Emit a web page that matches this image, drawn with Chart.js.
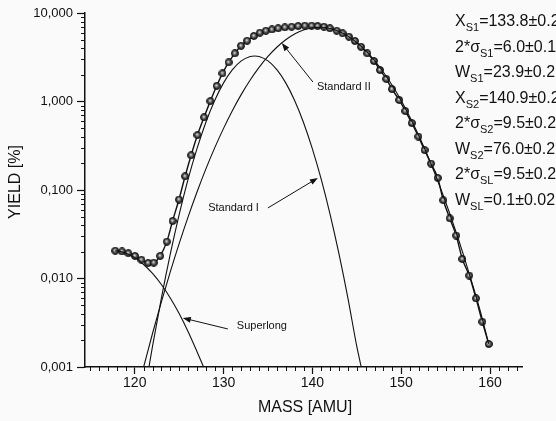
<!DOCTYPE html>
<html>
<head>
<meta charset="utf-8">
<script src="https://cdn.jsdelivr.net/npm/chart.js@4.4.1/dist/chart.umd.min.js"></script>
<style>
  body { margin: 0; background: #fafafa; }
  canvas { display: block; }
</style>
</head>
<body>
<canvas id="yieldChart" width="556" height="421"></canvas>
<script>
// measured yields (sum curve with the balls)
const massPoints = [117.80, 118.57, 119.28, 120.02, 120.75, 121.50, 122.14, 122.86, 123.61, 124.26,
    124.98, 125.67, 126.35, 127.06, 127.80, 128.51, 129.22, 129.88, 130.57, 131.27,
    131.97, 132.65, 133.41, 134.08, 134.76, 135.44, 136.15, 136.90, 137.66, 138.40,
    139.15, 139.91, 140.59, 141.30, 141.97, 142.73, 143.40, 144.11, 144.79, 145.47,
    146.18, 146.93, 147.61, 148.32, 148.96, 149.78, 150.46, 151.19, 151.93, 152.63,
    153.35, 154.11, 154.74, 155.46, 156.19, 156.88, 157.66, 158.42, 159.13, 159.85];
const yieldPoints = [0.0206, 0.0202, 0.0193, 0.0180, 0.0163, 0.0150, 0.0151, 0.0180, 0.0261, 0.0447,
    0.0781, 0.143, 0.247, 0.418, 0.663, 1.01, 1.50, 2.08, 2.77, 3.50,
    4.26, 4.86, 5.50, 5.99, 6.31, 6.51, 6.72, 6.89, 7.00, 7.13,
    7.19, 7.19, 7.13, 7.00, 6.72, 6.31, 5.90, 5.40, 4.83, 4.16,
    3.50, 2.87, 2.27, 1.80, 1.38, 1.04, 0.781, 0.571, 0.402, 0.283,
    0.199, 0.137, 0.0767, 0.0479, 0.0306, 0.0166, 0.0108, 0.00597, 0.00325, 0.00182];

// Standard I component
const standard1Mass = [121.6, 122, 123, 124, 125, 126, 127, 128, 129, 130, 131, 132, 133, 133.5,
    134, 135, 136, 137, 138, 139, 140, 141, 142, 143, 144, 145, 145.5];
const standard1Yield = [0.001, 0.00171, 0.0060, 0.0188, 0.0527, 0.1315, 0.292, 0.580, 1.028, 1.624, 2.288, 2.875, 3.224, 3.27,
    3.224, 2.875, 2.288, 1.624, 1.028, 0.580, 0.292, 0.1315, 0.0527, 0.0188, 0.0060, 0.00171, 0.001];

// Standard II component
const standard2Mass = [121, 122, 123, 124, 125, 126, 127, 128, 129, 130, 131, 132, 133, 134, 135, 136, 137, 138, 139, 140,
    141, 142, 143, 144, 145, 146, 147, 148, 149, 150, 151, 152, 153, 154, 155, 156, 157, 158, 159, 159.85];
const standard2Yield = [0.001, 0.00239, 0.00545, 0.0119, 0.0248, 0.0494, 0.0942, 0.172, 0.299, 0.497, 0.791, 1.204, 1.75, 2.43, 3.23, 4.10, 4.98, 5.78, 6.41, 6.80,
    6.89, 6.68, 6.19, 5.48, 4.64, 3.75, 2.90, 2.14, 1.515, 1.023, 0.660, 0.408, 0.241, 0.136, 0.0731, 0.0377, 0.0186, 0.00874, 0.00394, 0.00182];

// Superlong component
const superlongMass = [117.8, 118, 119, 120, 121, 122, 123, 124, 125, 126, 127, 127.75];
const superlongYield = [0.0206, 0.0205, 0.0193, 0.0172, 0.0144, 0.0114, 0.00855, 0.00603, 0.00402, 0.00252, 0.00150, 0.001];

const xTicks = [120, 130, 140, 150, 160];
const yTicks = [0.001, 0.01, 0.1, 1, 10];
const yTickLabels = ['0,001', '0,010', '0,100', '1,000', '10,000'];

const paramText = ['X_{S1}=133.8±0.2', '2*σ_{S1}=6.0±0.1', 'W_{S1}=23.9±0.2', 'X_{S2}=140.9±0.2',
    '2*σ_{S2}=9.5±0.2', 'W_{S2}=76.0±0.2', '2*σ_{SL}=9.5±0.2', 'W_{SL}=0.1±0.02'];

// arrows: tip and tail in data coordinates
const arrowLabels = ['Standard II', 'Standard I', 'Superlong'];
const arrowTips = [[136.56, 4.58], [140.62, 0.137], [125.41, 0.00358]];
const arrowTails = [[140.06, 1.66], [134.99, 0.0627], [130.48, 0.00269]];

const FONT = "'Liberation Sans', Arial, Helvetica, sans-serif";

const toXY = (xs, ys) => xs.map((x, i) => ({ x: x, y: ys[i] }));

// little shaded ball used as point style
function makeBall(size) {
    const c = document.createElement('canvas');
    c.width = c.height = size;
    const g = c.getContext('2d');
    const r = size / 2 - 0.5;
    const grad = g.createRadialGradient(size * 0.45, size * 0.42, 0.3, size / 2, size / 2, r);
    grad.addColorStop(0, '#dcdcdc');
    grad.addColorStop(0.4, '#6e6e6e');
    grad.addColorStop(1, '#121212');
    g.fillStyle = grad;
    g.beginPath();
    g.arc(size / 2, size / 2, r, 0, Math.PI * 2);
    g.fill();
    g.lineWidth = 0.9;
    g.strokeStyle = '#0c0c0c';
    g.stroke();
    return c;
}

function drawRich(ctx, str, x, y) {
    const parts = str.split(/_\{|\}/);
    parts.forEach((p, i) => {
        if (!p) return;
        if (i % 2 === 1) {
            ctx.font = '11px ' + FONT;
            ctx.fillText(p, x, y + 5);
        } else {
            ctx.font = '16px ' + FONT;
            ctx.fillText(p, x, y);
        }
        x += ctx.measureText(p).width;
    });
}

const decorations = {
    id: 'decorations',
    afterDraw(chart) {
        const { ctx } = chart;
        const x = chart.scales.x, y = chart.scales.y;
        ctx.save();
        ctx.strokeStyle = '#111';
        ctx.fillStyle = '#111';
        ctx.lineWidth = 1;

        // minor ticks
        ctx.beginPath();
        for (let e = -3; e < 1; e++) {
            for (let k = 2; k <= 9; k++) {
                const py = Math.round(y.getPixelForValue(k * Math.pow(10, e))) + 0.5;
                ctx.moveTo(x.left - 4, py);
                ctx.lineTo(x.left, py);
            }
        }
        for (let m = 115; m <= 163; m++) {
            if (m % 10 === 0) continue;
            const px = Math.round(x.getPixelForValue(m)) + 0.5;
            ctx.moveTo(px, y.bottom);
            ctx.lineTo(px, y.bottom + 4);
        }
        ctx.stroke();

        // axis titles
        ctx.font = '16px ' + FONT;
        ctx.textAlign = 'center';
        ctx.textBaseline = 'middle';
        ctx.fillText('MASS [AMU]', 305, 408);
        ctx.save();
        ctx.translate(16, 182);
        ctx.rotate(-Math.PI / 2);
        ctx.fillText('YIELD [%]', 0, 0);
        ctx.restore();

        // fit parameters
        ctx.textAlign = 'left';
        ctx.textBaseline = 'alphabetic';
        paramText.forEach((s, i) => drawRich(ctx, s, 455, 26 + i * 25.5));

        // component labels with arrows
        ctx.font = '11px ' + FONT;
        ctx.lineWidth = 1;
        arrowLabels.forEach((lab, i) => {
            const tx = x.getPixelForValue(arrowTips[i][0]), ty = y.getPixelForValue(arrowTips[i][1]);
            const sx = x.getPixelForValue(arrowTails[i][0]), sy = y.getPixelForValue(arrowTails[i][1]);
            const ang = Math.atan2(ty - sy, tx - sx);
            ctx.beginPath();
            ctx.moveTo(sx, sy);
            ctx.lineTo(tx - 6 * Math.cos(ang), ty - 6 * Math.sin(ang));
            ctx.stroke();
            ctx.beginPath();
            ctx.moveTo(tx, ty);
            ctx.lineTo(tx - 8 * Math.cos(ang) + 3 * Math.sin(ang), ty - 8 * Math.sin(ang) - 3 * Math.cos(ang));
            ctx.lineTo(tx - 8 * Math.cos(ang) - 3 * Math.sin(ang), ty - 8 * Math.sin(ang) + 3 * Math.cos(ang));
            ctx.closePath();
            ctx.fill();

            ctx.textBaseline = 'middle';
            if (i === 0) {
                ctx.textAlign = 'left';
                ctx.fillText(lab, sx + 4, sy + 5);
            } else if (i === 1) {
                ctx.textAlign = 'right';
                ctx.fillText(lab, sx - 9, sy);
            } else {
                ctx.textAlign = 'left';
                ctx.fillText(lab, sx + 9, sy - 3);
            }
        });
        ctx.restore();
    }
};

const lineStyle = {
    borderColor: '#111',
    borderWidth: 1.1,
    pointRadius: 0,
    cubicInterpolationMode: 'monotone',
    fill: false
};

const ctx = document.getElementById('yieldChart').getContext('2d');
const myChart = new Chart(ctx, {
    type: 'line',
    data: {
        datasets: [
            Object.assign({ label: 'Superlong', data: toXY(superlongMass, superlongYield) }, lineStyle),
            Object.assign({ label: 'Standard I', data: toXY(standard1Mass, standard1Yield) }, lineStyle),
            Object.assign({ label: 'Standard II', data: toXY(standard2Mass, standard2Yield) }, lineStyle),
            {
                label: 'Yield',
                data: toXY(massPoints, yieldPoints),
                borderColor: '#111',
                borderWidth: 1.4,
                pointStyle: makeBall(8),
                pointRadius: 4,
                cubicInterpolationMode: 'monotone',
                fill: false
            }
        ]
    },
    options: {
        responsive: false,
        animation: false,
        layout: { padding: { left: 0, right: 34, top: 13, bottom: 0 } },
        plugins: { legend: { display: false }, tooltip: { enabled: false } },
        scales: {
            x: {
                type: 'linear',
                min: 114.4,
                max: 163.6,
                afterBuildTicks: s => { s.ticks = xTicks.map(v => ({ value: v })); },
                afterFit: s => { s.height = 54; },
                ticks: { font: { family: FONT, size: 14 }, color: '#111', padding: 1, maxRotation: 0, autoSkip: false },
                grid: { display: true, drawOnChartArea: false, tickLength: 7, tickColor: '#111', tickWidth: 1.2 },
                border: { display: true, color: '#111', width: 1.5 }
            },
            y: {
                type: 'logarithmic',
                min: 0.001,
                max: 10,
                afterBuildTicks: s => { s.ticks = yTicks.map(v => ({ value: v })); },
                afterFit: s => { s.width = 85; },
                ticks: {
                    font: { family: FONT, size: 13 },
                    color: '#111',
                    padding: 4,
                    autoSkip: false,
                    callback: (v, i) => yTickLabels[i]
                },
                grid: { display: true, drawOnChartArea: false, tickLength: 8, tickColor: '#111', tickWidth: 1.2 },
                border: { display: true, color: '#111', width: 1.5 }
            }
        }
    },
    plugins: [decorations]
});
</script>
</body>
</html>
